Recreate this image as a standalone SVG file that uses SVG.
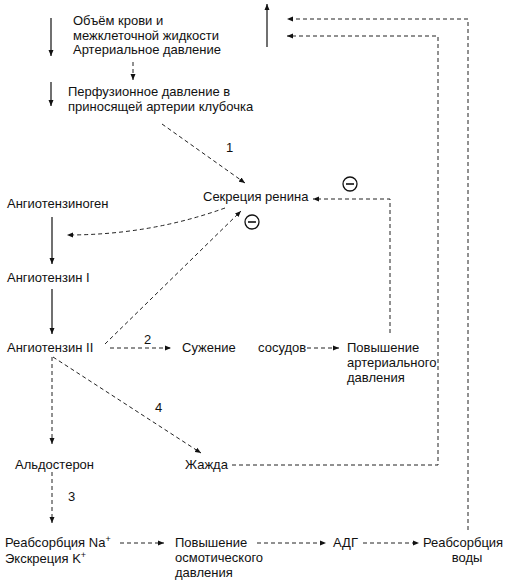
<svg xmlns="http://www.w3.org/2000/svg" width="510" height="583" viewBox="0 0 510 583">
<defs>
<marker id="ah" markerUnits="userSpaceOnUse" markerWidth="7" markerHeight="6" refX="6" refY="3" orient="auto">
<path d="M0,0.5 L6,3 L0,5.5 z" fill="#111"/>
</marker>
</defs>
<style>
text{font-family:"Liberation Sans",Arial,sans-serif;font-size:13px;fill:#111}
.sol{stroke:#111;stroke-width:1.2;fill:none}
.dsh{stroke:#222;stroke-width:1;fill:none;stroke-dasharray:4 3}
.arr{marker-end:url(#ah)}
.minus circle{fill:#fff;stroke:#111;stroke-width:1.3}
.minus line{stroke:#111;stroke-width:1.6}
.sup{font-size:9px}
</style>
<rect width="510" height="583" fill="#fff"/>

<g id="indicators">
<line class="sol arr" x1="51" y1="18" x2="51" y2="56"/>
<line class="sol arr" x1="51" y1="82" x2="51" y2="106"/>
<line class="sol arr" x1="267" y1="47" x2="267" y2="4"/>
</g>

<g id="connectors">
<line class="dsh arr" x1="133" y1="62" x2="133" y2="80"/>
<line class="dsh arr" x1="162" y1="124" x2="245" y2="183"/>
<line class="dsh arr" x1="105" y1="344" x2="241" y2="211"/>
<path class="dsh arr" d="M225,208 Q150,235 67,235"/>
<line class="sol arr" x1="52" y1="217" x2="52" y2="264"/>
<line class="sol arr" x1="52" y1="289" x2="52" y2="334"/>
<line class="dsh arr" x1="110" y1="348" x2="171" y2="348"/>
<line class="dsh arr" x1="307" y1="348" x2="339" y2="348"/>
<path class="dsh arr" d="M390,333 V199 H313"/>
<line class="dsh arr" x1="52" y1="357" x2="52" y2="444"/>
<line class="dsh arr" x1="53" y1="357" x2="201" y2="453"/>
<line class="dsh arr" x1="52" y1="472" x2="52" y2="523"/>
<line class="dsh arr" x1="120" y1="543" x2="164" y2="543"/>
<line class="dsh arr" x1="257" y1="543" x2="326" y2="543"/>
<line class="dsh arr" x1="363" y1="543" x2="419" y2="543"/>
<path class="dsh arr" d="M232,465 H438 V36 H287"/>
<path class="dsh arr" d="M468,530 V19 H287"/>
<text x="226" y="152">1</text>
<text x="144" y="344">2</text>
<text x="68" y="501">3</text>
<text x="155" y="412">4</text>
<g class="minus"><circle cx="350" cy="184" r="7"/><line x1="346" y1="184" x2="354" y2="184"/></g>
<g class="minus"><circle cx="252" cy="222" r="7"/><line x1="248" y1="222" x2="256" y2="222"/></g>
</g>

<g id="n-volume">
<text x="73" y="25">Объём крови и</text>
<text x="73" y="40">межклеточной жидкости</text>
<text x="73" y="54">Артериальное давление</text>
</g>
<g id="n-perfusion">
<text x="68" y="96">Перфузионное давление в</text>
<text x="68" y="111">приносящей артерии клубочка</text>
</g>
<g id="n-renin"><text x="203" y="201">Секреция ренина</text></g>
<g id="n-angiotensinogen"><text x="7" y="208">Ангиотензиноген</text></g>
<g id="n-ang1"><text x="7" y="282">Ангиотензин I</text></g>
<g id="n-ang2"><text x="7" y="352">Ангиотензин II</text></g>
<g id="n-vasoconstriction">
<text x="182" y="352">Сужение</text>
<text x="258" y="352">сосудов</text>
</g>
<g id="n-bp-rise">
<text x="347" y="352">Повышение</text>
<text x="347" y="367">артериального</text>
<text x="347" y="382">давления</text>
</g>
<g id="n-aldosterone"><text x="15" y="469">Альдостерон</text></g>
<g id="n-thirst"><text x="185" y="469">Жажда</text></g>
<g id="n-na-reabs">
<text x="5" y="547">Реабсорбция Na<tspan class="sup" dy="-5">+</tspan></text>
<text x="5" y="563">Экскреция K<tspan class="sup" dy="-5">+</tspan></text>
</g>
<g id="n-osmotic">
<text x="175" y="547">Повышение</text>
<text x="175" y="562">осмотического</text>
<text x="175" y="577">давления</text>
</g>
<g id="n-adh"><text x="333" y="547">АДГ</text></g>
<g id="n-water-reabs">
<text x="423" y="547">Реабсорбция</text>
<text x="467" y="562" text-anchor="middle">воды</text>
</g>
</svg>
